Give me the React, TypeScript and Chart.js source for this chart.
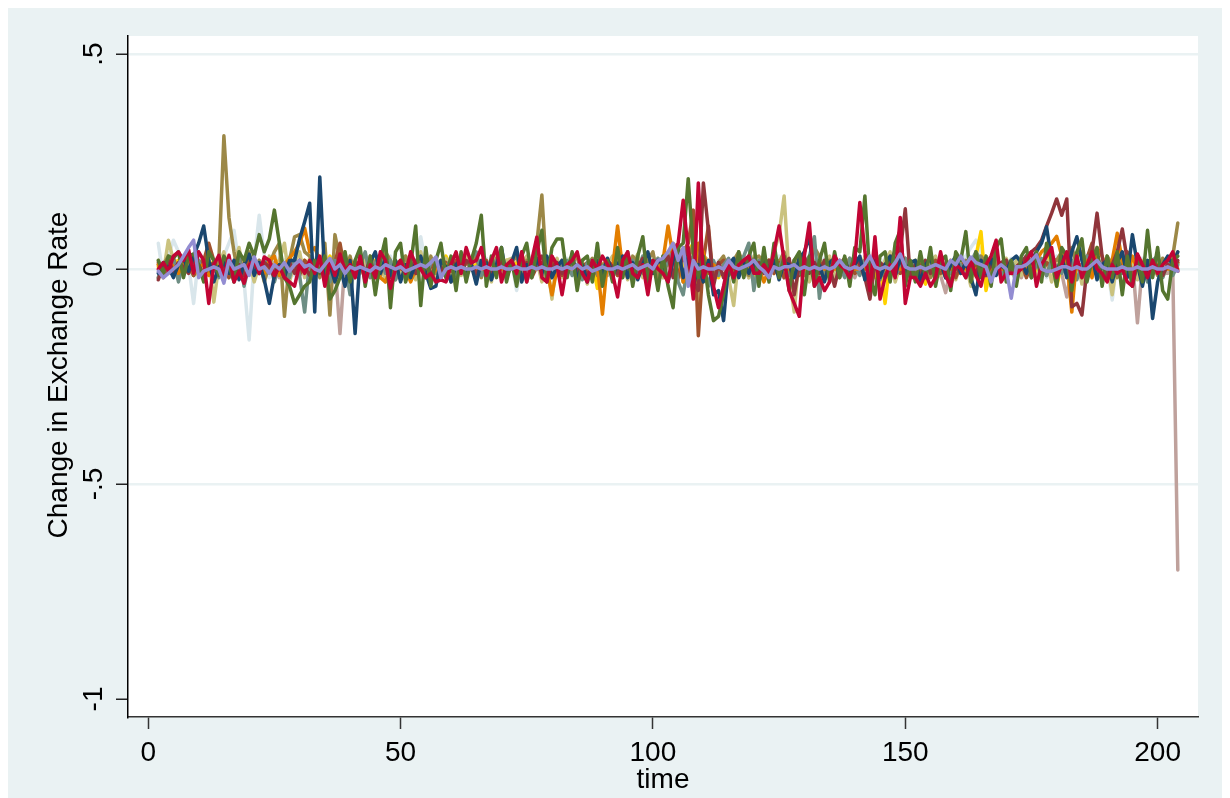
import React, { useEffect, useRef } from "react";
import { Chart, registerables } from "chart.js";

Chart.register(...registerables);

// values are in thousandths of a unit (0.001)
const timeStart = 2;

const NAVY = [
  -10, 15, 5, -20, 10, 25, -5, 30, 60, 100,
  20, -30, 5, 15, -10, 20, -25, 10, 35, -15,
  15, -25, -80, -15, 10, -20, 20, 20, 70, 110,
  153, -100, 214, -20, 10, -30, 5, -40, 20, -150,
  30, -20, 15, 40, -10, 25, -15, 20, -30, 10,
  -20, 15, 30, -10, -45, -40, 20, 5, -30, 10,
  25, -15, 10, -35, 20, 15, -25, 10, 50, -20,
  15, 50, -30, 10, -15, 25, -10, 30, -20, 5,
  20, -15, 35, -25, 10, -30, 15, 20, -10, 25,
  -15, 10, 30, -20, 15, -25, 10, 40, -10, 20,
  15, -30, 20, 50, -20, 30, -40, 10, -30, 20,
  -60, -50, -120, 10, 25, -20, 15, -10, 20, -15,
  30, -10, 20, -25, 15, 10, -20, 25, 40, 75,
  -20, 10, -30, 15, 25, -15, 20, -10, 10, 30,
  -25, 15, 20, -20, 10, 30, -15, 25, -10, 15,
  20, -30, 10, 25, -15, 15, -20, 10, 30, -10,
  15, -20, -60, 20, -10, 25, -15, 10, -5, 20,
  30, 15, -10, 20, 40, 60, 98, 20, -10, 30,
  -20, 40, 75, 20, -15, 30, -25, 10, 20, -30,
  15, 40, -20, 80, 10, -40, 20, -115, -30, 10,
  30, 10, 40,
];

const MAROON = [
  -25, 10, 20, -5, 15, 5, -10, 20, 10, -15,
  5, 15, -10, 10, 20, -5, 10, -15, 5, 10,
  -10, 15, 5, -20, 10, 5, 15, -10, 20, 5,
  -15, 10, 20, -5, 15, -10, 30, 5, -10, 15,
  10, -5, 20, -15, 5, 10, -20, 15, 5, -10,
  15, -10, 5, 20, -15, 10, 5, -20, 15, 10,
  -5, 20, 10, -10, 5, 15, -15, 10, 20, -5,
  10, -15, 5, 15, -10, 20, 30, -10, 5, 15,
  -10, 5, 20, -5, 10, -15, 15, 5, -10, 20,
  5, -10, 15, 10, -20, 5, 25, -10, 15, 20,
  10, 30, -20, 40, 20, 50, -30, -50, 200, 90,
  -40, 15, -20, 10, 5, -15, 20, 10, -5, 15,
  -10, 20, 5, -15, 10, 25, -60, 10, 30, -10,
  15, -10, 20, 5, -40, 10, 25, -15, 30, 10,
  -20, -70, 10, 15, 5, 20, 40, 40, 140, -20,
  10, -15, 20, -10, 5, 15, -20, 10, 5, -10,
  15, 5, -10, 20, -15, 10, -5, 15, 20, -10,
  5, 15, 30, 40, 50, 67, 100, 130, 163, 125,
  163, -88, -80, -107, 0, 40, 130, 30, -20, 10,
  40, 93, 20, -30, 10, 15, -10, 20, 5, -15,
  10, 5, 20,
];

const GREEN = [
  20, -10, 30, 25, 40, -20, 30, 35, 10, -30,
  40, 20, -15, 30, 10, -30, 40, 20, 60, 30,
  80, 40, 70, 137, 60, -20, -40, -80, -60, -40,
  -30, 20, -10, 30, -70, -50, -20, 40, -30, 20,
  50, -40, 30, -60, 20, 70, -90, 40, 60, -30,
  10, 100, -85, 50, -40, 20, 60, -20, 30, -50,
  40, -30, 20, 60, 125, -40, 30, -20, 50, -30,
  20, -40, 30, 60, -20, 40, 90, -30, 50, 70,
  70, -20, 40, -50, 20, 30, -30, 60, -40, 20,
  -30, 50, -20, 40, -40, 30, 75, -30, 20, -50,
  30, -40, -90, 50, 60, 210, 40, -20, 30, -60,
  -120, -110, -60, 20, -30, 40, -20, 30, 60, -40,
  50, -30, 60, -20, 30, -50, 20, 40, -60, 30,
  -40, 20, 60, -30, 40, -20, 30, -40, 50, 40,
  170, -20, -60, 30, 40, -30, 60, 90, -40, 20,
  -30, 40, -20, 50, -40, 20, 30, -50, 40, 20,
  87, -30, 40, -20, 30, -40, 50, 70, -30, 20,
  -40, 30, 50, -20, 40, -30, 60, 20, -40, 50,
  30, -50, 40, 70, -30, 20, 50, -40, 30, -20,
  40, -60, 30, -40, 20, -30, 90, -20, 50, -50,
  -70, 20, 30,
];

const ORANGE = [
  10, -5, 20, 5, -10, 15, 25, -10, 5, 10,
  -15, 10, 5, 20, -10, 15, 5, -20, 10, 15,
  5, -10, 20, 30, -15, 10, 25, 40, 60, 95,
  40, 50, 20, -10, 15, 5, -15, 10, 20, -5,
  5, -10, 10, 0, -20, -30, 0, 10, 0, 0,
  -30, 0, 0, 0, -20, 0, 0, 10, 0, 0,
  0, 0, 0, 0, 0, 0, 0, 0, 0, 0,
  0, 0, 0, 0, 0, 0, 0, 0, -60, 0,
  0, 0, 0, 0, 0, 0, 0, 10, -105, 20,
  0, 100, 0, 0, 0, 0, 0, 0, 10, 0,
  20, 100, 30, 40, -30, 20, -20, 60, 40, -10,
  10, 0, 0, 0, 0, 0, 0, 0, 0, 0,
  -30, 0, 0, 0, 0, 0, 0, 0, 0, 0,
  0, 0, 0, 0, 0, 0, 0, 0, 0, 0,
  0, 0, 0, 0, 0, 0, 0, 0, 0, 0,
  0, 0, 0, 0, 0, 0, 0, 0, 0, 0,
  0, 0, 0, 0, 0, 0, 0, 0, 0, 0,
  0, 0, 0, 10, 20, 40, 50, 60, 76, 30,
  20, -100, 30, 40, 10, -20, 50, 30, -10, 20,
  83, 20, -10, 30, 0, 0, 0, 0, 10, 0,
  0, 0, 0,
];

const TEAL = [
  -20, 10, -5, 25, -30, 15, 10, -10, 20, -25,
  15, 5, -20, 10, 25, -15, 30, -40, 10, 20,
  -10, 15, 20, -30, 10, 5, -20, 25, -15, -100,
  20, -10, 15, 5, -30, 20, -15, 10, -60, 15,
  10, 40, -20, 15, 30, -10, 20, -25, 10, 5,
  -15, 20, 10, -20, 15, 25, -10, 5, 20, -15,
  10, -20, 25, 40, -15, 10, -25, 20, 5, -10,
  15, -10, 20, -30, 10, 25, -15, 10, -20, 15,
  5, 20, -15, 10, -25, 15, 20, -10, 5, 15,
  -20, 10, 15, -10, 20, -5, 30, -15, 10, 25,
  -10, 20, 40, -30, -60, 15, 30, -20, 10, -40,
  20, -15, 10, 25, -20, 15, 30, 60, -50, 20,
  10, -20, 15, 5, 25, -15, 20, -10, 10, 30,
  75, -68, 20, -10, 15, 5, -20, 25, 10, -15,
  20, -10, 15, -25, 10, 20, -15, 5, 25, -10,
  15, -20, 10, 25, -15, 20, 5, -10, 15, 10,
  -20, 15, 40, 20, -10, 25, 45, -15, 10, 20,
  -10, 15, 30, -20, 10, 25, -15, 20, 5, -10,
  15, 20, -25, 10, 30, -15, 20, 10, -20, 15,
  25, -10, 20, -40, 15, 10, -30, 20, 30, -20,
  15, -15, 10,
];

const CRANBERRY = [
  0, 15, -5, 30, 40, 20, 45, -10, 40, 20,
  -80, 10, 32, -20, 32, -30, -5, -33, 10, 20,
  -10, 28, 20, -15, 5, -20, -30, -40, 10, -10,
  20, -10, 30, -40, 20, -15, 35, -5, 10, -20,
  30, -30, 10, -20, 40, 20, -45, 0, 20, -10,
  40, 10, 0, -20, -10, -30, -25, -30, 10, 40,
  -10, 50, 14, 20, 50, -15, 20, 50, -30, 10,
  20, -10, 40, -30, 20, 74, -20, -30, 30, 10,
  -60, 10, 20, 40, -10, -30, 20, 0, 30, 10,
  -10, -65, 20, 40, -10, -20, 10, -60, 20, 0,
  -10, -30, 40, 60, 160, 40, -70, 200, -20, 10,
  -40, -90, -40, 16, -20, 10, 20, 30, -10, -10,
  10, -10, 40, 100, 20, -50, -80, -110, 30, 107,
  -40, -20, -50, -30, 30, 10, 0, -20, 20, 155,
  40, -50, 75, -70, -20, 10, -20, 120, -80, -20,
  -20, -40, -10, -40, -20, 40, -15, -40, 10, 0,
  -20, 20, -15, -40, 10, 30, 67, -30, -10, -10,
  -10, 0, 20, 40, -40, 10, 30, 50, -20, 10,
  40, -30, 30, -20, 10, 40, 0, -10, -30, 10,
  -10, 0, -30, -40, 35, 10, -20, 20, -10, 10,
  20, 40, -5,
];

const LAVENDER = [
  -5, -20, -10, 0, 10, 30, 50, 67, -20, -5,
  0, 5, 0, -33, 20, 0, 5, 10, -15, 28,
  0, 5, -10, 10, 0, 15, -5, 10, 20, 5,
  10, 0, -5, 10, 25, 0, 10, -10, 5, 0,
  5, 0, -5, 5, 0, 10, 5, 0, 5, -5,
  0, 5, 10, 5, 15, 28, -20, 0, 5, 0,
  5, 0, 0, 5, 0, 5, 0, 0, 5, 0,
  0, 5, 0, 0, 5, 0, 5, 0, 0, 5,
  0, 5, 0, 10, 0, 5, -5, 0, 5, 0,
  0, 5, 0, 5, 10, 0, 5, 10, 0, 20,
  25, 40, 60, 20, 50, -40, 20, 0, 5, 0,
  0, 5, 0, 20, 5, 0, 5, 10, 20, 5,
  -5, -20, 5, 0, 5, 5, 10, 0, 5, 0,
  5, 0, 5, 0, 5, 20, 5, 0, 5, 0,
  10, 30, 5, 0, 5, 0, 15, 35, 5, 0,
  0, 5, 0, 5, 10, 5, 0, 20, 10, 30,
  10, 28, 15, 10, 5, -30, 0, 10, 0, -68,
  5, 5, 10, 20, 33, 0, -5, -5, 0, 5,
  5, 0, 5, 0, 0, 10, 20, 5, 0, 0,
  0, 5, 0, 0, 5, 0, 0, 5, 0, 0,
  5, 0, -5,
];

const KHAKI = [
  20, -10, 67, 20, -15, 30, 10, -15, 20, 5,
  30, -77, 10, 40, -20, 15, 50, -10, 20, -30,
  10, -20, 30, -10, 20, 60, -30, 15, 40, -20,
  25, -15, 10, 30, -20, 15, -10, 40, -25, 20,
  -10, 30, -20, 15, 25, -30, 10, 20, -15, 30,
  15, -25, 40, -10, 20, -30, 15, 25, -20, 10,
  -15, 30, 10, -25, 20, 15, -30, 40, -10, 20,
  25, -20, 10, 30, -15, 20, -30, 15, -70, 25,
  -20, 15, 30, -10, 20, -35, 15, 25, -20, 10,
  30, -15, 20, -25, 10, 35, -20, 15, -10, 25,
  -20, 30, 60, 50, 40, -20, 10, -80, 30, 20,
  -30, 15, 20, -20, -85, 25, 10, -20, 30, -15,
  20, -10, 40, 80, 170, -20, -100, 30, 15, -30,
  20, -40, 15, 30, -20, 10, 25, -15, 20, -10,
  30, -20, 15, -10, 20, 40, -30, 10, -15, 20,
  -10, 25, -20, 15, 30, -15, 10, 20, -25, 15,
  10, -40, 20, 15, 30, -20, 10, -15, 25, -10,
  20, -15, 30, 10, -20, 15, 25, -30, 10, 40,
  -20, 15, 30, -35, 20, -10, 25, -20, 15, -60,
  20, 30, -15, 10, -25, 20, -10, 15, 30, -20,
  10, 20, 40,
];

const SIENNA = [
  15, -20, 10, 25, -10, 5, 20, -15, 10, 20,
  60, 20, -10, 15, -20, 10, 30, -15, 20, 5,
  -10, 15, 20, -5, 10, -20, 25, 10, -15, 20,
  5, -15, 10, 20, -10, 15, 60, -5, 20, -15,
  10, -20, 15, 5, -10, 25, -15, 10, 20, -5,
  15, -10, 20, -15, 5, 10, -20, 15, -5, 20,
  -10, 15, 5, -20, 10, 20, -15, 5, 10, -10,
  20, -5, 15, 10, -20, 5, 15, -10, 20, 5,
  -15, 10, 20, -10, 5, 15, -20, 10, -5, 15,
  10, -15, 5, 20, -10, 15, 5, -20, 10, 20,
  -10, 20, 30, -20, 40, 60, 137, -155, 20, 100,
  -30, 10, 20, -15, 5, 15, -10, 20, 5, -15,
  10, 20, -10, 15, -20, 5, 10, -15, 20, 10,
  -10, 15, 5, -20, 10, 20, -5, 15, -10, 5,
  20, -15, 10, 5, -20, 15, 25, -10, 5, 15,
  -20, 10, 15, -5, 20, -10, 5, 15, -20, 10,
  15, -10, 5, 20, -15, 10, -5, 15, 20, -10,
  5, 15, -20, 10, 20, -10, 15, 5, -15, 20,
  10, -20, 15, 5, 25, 60, -15, 10, 20, -10,
  15, 5, 40, -20, 10, 15, -15, 20, 5, -10,
  10, -5, 15,
];

const BROWN = [
  -20, 10, 30, 15, -10, 20, 5, -15, 10, 25,
  -10, 0, 20, 310, 120, 40, -20, 10, 40, -10,
  20, -30, 10, 40, 60, -110, 20, 75, 80, 40,
  30, 10, -20, 60, -107, 80, 20, -10, 30, -20,
  15, -20, 30, 10, -15, 40, 20, -25, 10, 30,
  -20, 10, 25, -15, 30, -10, 20, 15, -30, 10,
  20, -15, 10, 30, -20, 15, -10, 25, 10, -20,
  15, 30, -10, 20, 10, 60, 172, -20, 30, -15,
  20, -10, 15, 30, -20, 10, 25, -15, 10, 20,
  -15, 20, 10, -20, 30, 15, -10, 20, 40, -20,
  30, 10, 50, 40, -30, 20, 60, -20, 30, 10,
  -20, 15, 30, -10, 20, 40, 10, -15, 25, 30,
  10, -20, 30, 15, 40, -10, 20, 30, -15, 10,
  50, 30, -10, 20, 15, -20, 10, 25, -10, 20,
  15, -20, 30, 10, -15, 20, 10, -10, 25, 15,
  -10, 20, 15, -20, 10, 25, -15, 10, 20, -10,
  20, 10, -15, 30, 15, -10, 20, -20, 10, 15,
  -10, 20, 15, -20, 30, 10, -15, 25, 20, 40,
  30, 50, 10, -20, 20, 40, 15, -10, 30, 10,
  -20, 20, 30, -10, 15, -30, 20, 10, -15, 25,
  10, 30, 107,
];

const EROSE = [
  10, -15, 20, 5, -10, 15, -5, 10, 20, -10,
  15, -5, 10, -20, 20, 5, -10, 15, -5, 10,
  20, -10, 5, 15, -20, 10, 25, -5, 10, -15,
  5, 20, -10, 10, 15, 10, -150, 20, -5, 10,
  -10, 15, 5, -20, 10, 20, -15, 5, 10, -10,
  15, -5, 20, 10, -15, 5, 20, -10, 15, 5,
  -10, 20, 5, -15, 10, 15, -5, 20, -10, 10,
  5, -15, 20, 10, -5, 15, -20, 10, 5, 15,
  -5, 10, 20, -15, 5, 10, -10, 20, 5, -15,
  10, 5, -20, 15, 10, -5, 20, -10, 15, 5,
  -20, 10, 30, -25, 15, 40, -20, 10, -30, 20,
  10, -15, 20, 5, -10, 15, 10, -20, 15, 5,
  -10, 20, 5, 15, -20, 10, -5, 20, 10, -10,
  15, 5, -15, 20, 10, -10, 15, 5, -20, 10,
  5, -10, 20, 15, -5, 10, -15, 20, 5, -10,
  10, 15, -10, 5, 20, -15, -55, 5, -10, 20,
  -15, 10, 5, 20, -10, 15, -5, 10, 20, -5,
  10, -20, 15, 5, -10, 20, 10, -5, 15, -10,
  -65, 10, 20, -15, 5, 15, -10, 20, 10, -20,
  15, -10, 5, 20, -125, 10, -15, 5, 20, -10,
  -10, 0, -700,
];

const GOLD = [
  5, 10, -10, 15, 20, -5, 10, 0, -15, 10,
  20, 5, -10, 10, 0, 15, -5, 20, 10, -10,
  5, 15, -5, 10, 20, -10, 5, 15, 0, 20,
  10, -15, 20, 5, 30, -5, 15, 10, -10, 5,
  15, -5, 10, 20, -10, 5, 15, -20, 10, 5,
  -10, 15, 5, 20, -5, 10, -15, 30, 5, 10,
  15, -10, 5, 10, 20, -5, 15, 10, -10, 20,
  5, 15, -10, 10, 5, 20, -5, 10, 15, -10,
  10, 5, 20, -15, 10, 5, 15, -45, 10, 20,
  -10, 15, 5, 20, -5, 10, 15, 20, -10, 5,
  20, 10, 30, -20, 15, 40, 60, 20, -30, 10,
  15, -20, 10, 5, 20, -10, 15, 5, -15, 10,
  5, 20, -10, 15, 10, -5, 20, 10, -15, 5,
  10, -15, 5, 20, 10, -10, 15, 5, 20, -10,
  15, 5, -20, 10, -80, 20, 5, 15, -10, 10,
  20, -10, -35, 15, 5, 10, -15, 20, 5, 10,
  -10, 15, 30, 87, -50, 10, 20, -15, 5, 10,
  15, -5, 10, 20, -10, 5, 15, 40, -40, 10,
  20, -10, 15, 5, 20, -15, 10, 5, -10, 15,
  10, 20, -5, 15, -20, 10, 5, 15, -10, 20,
  5, 10, 15,
];

const BLUISHGRAY = [
  60, -20, 30, 67, 40, 20, 10, -80, 30, 10,
  40, 20, -10, 30, 60, 90, 10, -30, -165, 20,
  125, 30, -20, 40, -10, 20, 30, -15, 10, 20,
  -10, 25, 15, -20, 10, 30, -15, 20, 5, -10,
  20, -15, 10, 25, -20, 15, 30, -10, 5, 20,
  10, -20, 75, 10, -25, 20, 5, -10, 15, 30,
  -10, 20, 15, -20, 10, 25, -5, 15, -15, 10,
  20, -50, 10, 15, -20, 25, 10, -10, 20, -15,
  10, 25, -15, 20, 5, -10, 15, 20, -20, 10,
  15, -10, 20, 5, -15, 30, 10, 40, -10, 20,
  10, -20, 30, 50, 20, -30, 10, 40, -20, 15,
  -10, 20, 15, -15, 10, 25, -20, 5, 15, -10,
  20, -15, 10, 30, -20, 15, 5, -10, 20, 10,
  -15, 10, 25, -10, 15, 20, -5, 10, -20, 15,
  10, 20, -15, 5, 25, -10, 15, 10, -20, 20,
  15, -10, 20, 10, -15, 25, 5, -10, 15, 20,
  30, 50, 67, 40, -10, 20, 15, -20, 10, 25,
  -15, 20, 10, -10, 25, 15, -20, 10, 30, -5,
  10, 20, -15, 25, 5, -10, 20, 15, 10, -72,
  20, -10, 15, 10, -20, 25, 5, -15, 10, 20,
  -10, 15, 5,
];

const time = NAVY.map((_, i) => timeStart + i);

const xTicks = [0, 50, 100, 150, 200];
const yTicks = [-1, -0.5, 0, 0.5];
const yTickLabels = ["-1", "-.5", "0", ".5"];
const xTitle = "time";
const yTitle = "Change in Exchange Rate";

// first entry is drawn on top
const seriesList = [
  { name: "lavender", color: "#938dd2", values: LAVENDER },
  { name: "cranberry", color: "#c10534", values: CRANBERRY },
  { name: "forest_green", color: "#55752f", values: GREEN },
  { name: "navy", color: "#1a476f", values: NAVY },
  { name: "maroon", color: "#90353b", values: MAROON },
  { name: "dkorange", color: "#e37e00", values: ORANGE },
  { name: "teal", color: "#6e8e84", values: TEAL },
  { name: "sienna", color: "#a0522d", values: SIENNA },
  { name: "brown", color: "#9c8847", values: BROWN },
  { name: "khaki", color: "#cac27e", values: KHAKI },
  { name: "gold", color: "#ffd200", values: GOLD },
  { name: "erose", color: "#bfa19c", values: EROSE },
  { name: "bluishgray", color: "#d9e6eb", values: BLUISHGRAY },
];

const FONT = '"Liberation Sans", Arial, Helvetica, sans-serif';
const BG = "#EAF2F3";

const bgPlugin = {
  id: "stataBg",
  beforeDraw(chart: any) {
    const { ctx, width, height, chartArea } = chart;
    ctx.save();
    ctx.fillStyle = BG;
    ctx.fillRect(0, 0, width, height);
    ctx.fillStyle = "#ffffff";
    ctx.fillRect(chartArea.left, chartArea.top, chartArea.right - chartArea.left, chartArea.bottom - chartArea.top);
    ctx.restore();
  },
};

const textPlugin = {
  id: "stataText",
  afterDraw(chart: any) {
    const { ctx, chartArea } = chart;
    const xs = chart.scales.x;
    const ys = chart.scales.y;
    ctx.save();
    ctx.fillStyle = "#000";
    ctx.font = `28px ${FONT}`;
    ctx.textAlign = "center";
    ctx.textBaseline = "alphabetic";
    xTicks.forEach((v) => {
      ctx.fillText(String(v), xs.getPixelForValue(v), chartArea.bottom + 44);
    });
    ctx.fillText(xTitle, (chartArea.left + chartArea.right) / 2, chartArea.bottom + 71);
    yTicks.forEach((v, i) => {
      ctx.save();
      ctx.translate(chartArea.left - 26, ys.getPixelForValue(v));
      ctx.rotate(-Math.PI / 2);
      ctx.fillText(yTickLabels[i], 0, 0);
      ctx.restore();
    });
    ctx.save();
    ctx.translate(chartArea.left - 61, 367);
    ctx.rotate(-Math.PI / 2);
    ctx.fillText(yTitle, 0, 0);
    ctx.restore();
    ctx.restore();
  },
};

export default function App() {
  const ref = useRef<HTMLCanvasElement>(null);
  useEffect(() => {
    const canvas = ref.current;
    if (!canvas) return;
    const chart = new Chart(canvas, {
      type: "line",
      data: {
        datasets: seriesList.map((s) => ({
          label: s.name,
          data: s.values.map((v, i) => ({ x: time[i], y: v / 1000 })),
          borderColor: s.color,
          backgroundColor: s.color,
          borderWidth: 3.5,
          pointRadius: 0,
          tension: 0,
          fill: false,
          borderJoinStyle: "round",
          borderCapStyle: "round",
        })),
      },
      options: {
        animation: false,
        responsive: false,
        devicePixelRatio: 1,
        layout: { padding: { left: 0, top: 28, right: 32, bottom: 0 } },
        plugins: {
          legend: { display: false },
          tooltip: { enabled: false },
        },
        scales: {
          x: {
            type: "linear",
            min: -4,
            max: 208,
            afterBuildTicks: (s: any) => {
              s.ticks = xTicks.map((v) => ({ value: v }));
            },
            afterFit: (s: any) => {
              s.height = 81;
            },
            ticks: { display: false },
            grid: {
              drawOnChartArea: false,
              drawTicks: true,
              tickLength: 12,
              tickColor: "#333",
              tickWidth: 1.5,
            },
            border: { display: true, color: "#333", width: 1.5 },
          },
          y: {
            type: "linear",
            min: -1.042,
            max: 0.542,
            afterBuildTicks: (s: any) => {
              s.ticks = yTicks.map((v) => ({ value: v }));
            },
            afterFit: (s: any) => {
              s.width = 120;
            },
            ticks: { display: false },
            grid: {
              color: (c: any) => (c.tick && c.tick.value === -1 ? "rgba(0,0,0,0)" : BG),
              lineWidth: 2.5,
              drawTicks: true,
              tickLength: 12,
              tickColor: "#222",
              tickWidth: 1.5,
            },
            border: { display: true, color: "#000", width: 1.5 },
          },
        },
      },
      plugins: [bgPlugin, textPlugin],
    } as any);
    return () => chart.destroy();
  }, []);
  return <canvas ref={ref} width={1222} height={790} style={{ display: "block" }} />;
}
